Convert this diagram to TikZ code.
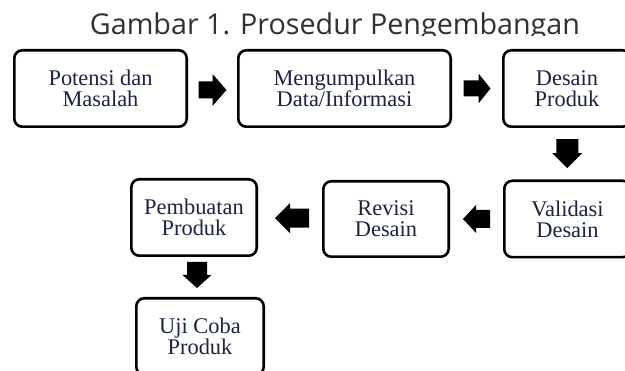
\documentclass[tikz,border=0pt]{standalone}
\usepackage{fontspec}
\setmainfont{Liberation Serif}
\newfontfamily\titlefont{Open Sans}
\usetikzlibrary{calc}
\definecolor{boxtext}{HTML}{1C2340}
\definecolor{titletext}{HTML}{303030}
\tikzset{
  stepbox/.style={draw=black, line width=2.6pt, rounded corners=8pt, fill=white,
    align=center, text=boxtext, inner sep=0pt,
    font=\fontsize{22.4}{21}\selectfont},
  arrowfill/.style={fill=black},
}
% #1 centre, #2 rotation, #3 length, #4 head length, #5 head half-breadth, #6 shaft half-breadth
\newcommand\blkarrow[6]{%
  \fill[arrowfill, shift={(#1)}, rotate=#2]
    (-#3/2,-#6) -- (#3/2-#4,-#6) -- (#3/2-#4,-#5) -- (#3/2,0)
    -- (#3/2-#4,#5) -- (#3/2-#4,#6) -- (-#3/2,#6) -- cycle;}
\begin{document}
\begin{tikzpicture}[x=1pt,y=-1pt]
\useasboundingbox (0,0) rectangle (625,371);
\fill[white] (0,0) rectangle (625,371);
\begin{scope}
  \clip (0,0) rectangle (625,36);
  \node[anchor=base, text=titletext, font=\titlefont\fontsize{28.7}{30}\selectfont, inner sep=0pt]
    (title) at (335,35) {Gambar 1. Prosedur Pengembangan};
\end{scope}
\node[stepbox, minimum width=172.4pt, minimum height=76.4pt] (b1) at (100.5,88.5) {Potensi dan\\Masalah};
\node[stepbox, minimum width=212.4pt, minimum height=76.4pt] (b2) at (344.5,88.5) {Mengumpulkan\\Data/Informasi};
\node[stepbox, minimum width=127.4pt, minimum height=76.4pt] (b3) at (567,88.5) {Desain\\Produk};
\node[stepbox, minimum width=126.4pt, minimum height=76.4pt] (b4) at (567.5,219) {Validasi\\Desain};
\node[stepbox, minimum width=125.4pt, minimum height=75.4pt] (b5) at (386,219) {Revisi\\Desain};
\node[stepbox, minimum width=125.4pt, minimum height=76.4pt] (b6) at (194,217.5) {Pembuatan\\Produk};
\node[stepbox, minimum width=127.4pt, minimum height=76.4pt] (b7) at (200,336.5) {Uji Coba\\Produk};
\coordinate (m12) at ($(b1.east)!0.5!(b2.west)+(0,1.5)$);
\coordinate (m23) at ($(b2.east)!0.5!(b3.west)$);
\coordinate (m34) at ($(b3.south)!0.5!(b4.north)$);
\coordinate (m45) at ($(b4.west)!0.5!(b5.east)$);
\coordinate (m56) at ($(b5.west)!0.5!(b6.east)+(2,0)$);
\coordinate (m67) at ($(b6.south)!0.5!(b7.north)+(0,-2)$);
\blkarrow{m12}{0}{28}{14}{16}{8.5}
\blkarrow{m23}{0}{27}{12}{15}{8}
\blkarrow{m34}{-90}{29}{15}{15}{11}
\blkarrow{m45}{180}{27}{13}{14}{9}
\blkarrow{m56}{180}{34}{15}{15}{9.5}
\blkarrow{m67}{-90}{26}{13}{14.5}{10}
\end{tikzpicture}
\end{document}
